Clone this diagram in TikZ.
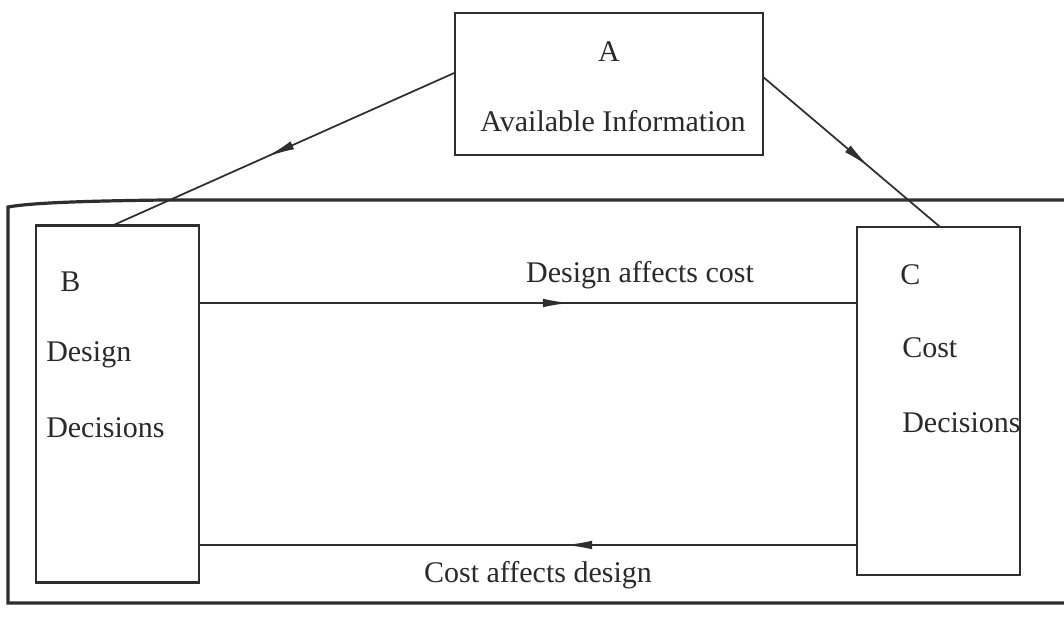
\documentclass[tikz,border=0pt]{standalone}
\usepackage{fontspec}
\setmainfont{Liberation Serif}
\usetikzlibrary{arrows.meta,decorations.markings,calc}
\definecolor{ink}{HTML}{2E2E2E}
\definecolor{txt}{HTML}{2A2A2A}
\begin{document}
\begin{tikzpicture}[x=0.75pt,y=-0.75pt,
  box/.style={draw=ink,line width=1.9pt,inner sep=0pt,outer sep=0pt},
  lbl/.style={text=txt,font=\fontsize{22.5}{26}\selectfont,inner sep=0pt},
  conn/.style={draw=ink,line width=1.7pt},
  midarrow/.style={postaction={decorate},decoration={markings,
     mark=at position #1 with {\arrow{Latex[length=21pt,width=6.5pt]}}}}]
\useasboundingbox (0,0) rectangle (1064,617);
\fill[white] (0,0) rectangle (1064,617);
% outer frame
\draw[ink,line width=2.4pt] (1070,200) -- (165,200) .. controls (80,201) and (30,203) .. (8,207) -- (8,603) -- (1070,603);
% boxes
\node[box,minimum width=231pt,minimum height=106.5pt] (A) at (609,84) {};
\node[box,minimum width=122.25pt,minimum height=267.75pt] (B) at (117.5,404) {};
\node[box,minimum width=122.25pt,minimum height=261pt] (C) at (938.5,401) {};
% texts
\node[lbl] (tA) at (609,52) {A};
\node[lbl] (tA2) at (613,121) {Available Information};
\node[lbl,anchor=west] (tB) at (60,282) {B};
\node[lbl,anchor=west] (tB2) at (46,355) {Design};
\node[lbl,anchor=west] (tB3) at (46,428) {Decisions};
\node[lbl,anchor=west] (tC) at (900,275) {C};
\node[lbl,anchor=west] (tC2) at (902,348) {Cost};
\node[lbl,anchor=west] (tC3) at (902,423) {Decisions};
\node[lbl] (l1) at (640,275) {Design affects cost};
\node[lbl] (l2) at (538,575) {Cost affects design};
% connectors
\coordinate (ytop) at (0,303);
\coordinate (ybot) at (0,545);
\draw[conn,midarrow=0.565] (B.east |- ytop) -- (C.west |- ytop);
\draw[conn,midarrow=0.445] (C.west |- ybot) -- (B.east |- ybot);
\draw[conn,line width=1.3pt,midarrow=0.55] ($(A.north west)!0.42!(A.south west)$) -- ($(B.north west)!0.47!(B.north east)$);
\draw[conn,line width=1.3pt,midarrow=0.6] ($(A.north east)!0.45!(A.south east)$) -- ($(C.north west)!0.51!(C.north east)$);
\end{tikzpicture}
\end{document}
